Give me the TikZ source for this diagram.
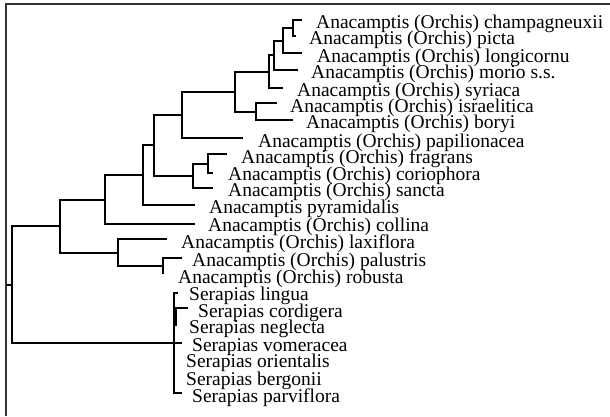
\documentclass[tikz,border=0pt]{standalone}
\usepackage{fontspec}
\setmainfont{Liberation Serif}
\begin{document}
\begin{tikzpicture}[x=1pt,y=-1pt,
  br/.style={line width=2pt,line join=miter,line cap=butt},
  frame/.style={line width=1.3pt,draw=black!80},
  lab/.style={anchor=base west,inner sep=0pt,font=\fontsize{19.5}{20}\selectfont}]
\useasboundingbox (0,0) rectangle (610,416);
\draw[frame] (6,416) -- (6,4) -- (610,4);
% labels
\node[lab] (l1) at (316,28) {Anacamptis (Orchis) champagneuxii};
\node[lab] (l2) at (309,44) {Anacamptis (Orchis) picta};
\node[lab] (l3) at (317,62) {Anacamptis (Orchis) longicornu};
\node[lab] (l4) at (311,78) {Anacamptis (Orchis) morio s.s.};
\node[lab] (l5) at (297,96) {Anacamptis (Orchis) syriaca};
\node[lab] (l6) at (290,112) {Anacamptis (Orchis) israelitica};
\node[lab] (l7) at (306,128) {Anacamptis (Orchis) boryi};
\node[lab] (l8) at (258,147) {Anacamptis (Orchis) papilionacea};
\node[lab] (l9) at (241,163) {Anacamptis (Orchis) fragrans};
\node[lab] (l10) at (228,180) {Anacamptis (Orchis) coriophora};
\node[lab] (l11) at (228,196) {Anacamptis (Orchis) sancta};
\node[lab] (l12) at (209,213) {Anacamptis pyramidalis};
\node[lab] (l13) at (208,231) {Anacamptis (Orchis) collina};
\node[lab] (l14) at (181,248) {Anacamptis (Orchis) laxiflora};
\node[lab] (l15) at (192,266) {Anacamptis (Orchis) palustris};
\node[lab] (l16) at (178,283) {Anacamptis (Orchis) robusta};
\node[lab] (l17) at (189,300) {Serapias lingua};
\node[lab] (l18) at (198,317) {Serapias cordigera};
\node[lab] (l19) at (189,333) {Serapias neglecta};
\node[lab] (l20) at (192,351) {Serapias vomeracea};
\node[lab] (l21) at (186,367) {Serapias orientalis};
\node[lab] (l22) at (186,385) {Serapias bergonii};
\node[lab] (l23) at (192,402) {Serapias parviflora};
% tips
\coordinate (t1) at (302,20);
\coordinate (t2) at (296,36);
\coordinate (t3) at (302,53);
\coordinate (t4) at (298,70);
\coordinate (t5) at (283,88);
\coordinate (t6) at (277,103);
\coordinate (t7) at (293,120);
\coordinate (t8) at (243,138);
\coordinate (t9) at (227,154);
\coordinate (t10) at (213,173);
\coordinate (t11) at (213,188);
\coordinate (t12) at (195,205);
\coordinate (t13) at (195,224);
\coordinate (t14) at (167,239);
\coordinate (t15) at (182,258);
\coordinate (t16) at (163,274);
\coordinate (t17) at (178,293);
\coordinate (t18) at (188,308);
\coordinate (t19) at (176,326);
\coordinate (t20) at (182,343);
\coordinate (t23) at (182,393);
% internal nodes
\coordinate (A) at (293,28);
\coordinate (B) at (283,40.5);
\coordinate (C) at (274,55);
\coordinate (D) at (269,71.5);
\coordinate (F) at (256,111.5);
\coordinate (E) at (235,91.5);
\coordinate (G) at (182,114.75);
\coordinate (J) at (208,163.5);
\coordinate (I) at (193,175.75);
\coordinate (H) at (154,145.25);
\coordinate (K) at (143,175);
\coordinate (L) at (105,199.5);
\coordinate (O) at (163,266);
\coordinate (N) at (118,252.5);
\coordinate (M) at (60,226);
\coordinate (S) at (174,343);
\coordinate (Q) at (176,317);
\coordinate (R) at (12,284.5);
\coordinate (R0) at (6,284.5);
% branches
\draw[br] (A) |- (t1); \draw[br] (A) |- (t2);
\draw[br] (B) |- (A); \draw[br] (B) |- (t3);
\draw[br] (C) |- (B); \draw[br] (C) |- (t4);
\draw[br] (D) |- (C); \draw[br] (D) |- (t5);
\draw[br] (F) |- (t6); \draw[br] (F) |- (t7);
\draw[br] (E) |- (D); \draw[br] (E) |- (F);
\draw[br] (G) |- (E); \draw[br] (G) |- (t8);
\draw[br] (J) |- (t9); \draw[br] (J) |- (t10);
\draw[br] (I) |- (J); \draw[br] (I) |- (t11);
\draw[br] (H) |- (G); \draw[br] (H) |- (I);
\draw[br] (K) |- (H); \draw[br] (K) |- (t12);
\draw[br] (L) |- (K); \draw[br] (L) |- (t13);
\draw[br] (O) |- (t15); \draw[br] (O) |- (t16);
\draw[br] (N) |- (t14); \draw[br] (N) |- (O);
\draw[br] (M) |- (L); \draw[br] (M) |- (N);
\draw[br] (S) |- (t17); \draw[br] (S) |- (t23); \draw[br] (S) -- (t20);
\draw[br] (Q) |- (t18); \draw[br] (Q) |- (t19); \draw[br] (S |- Q) -- (Q);
\draw[br] (R) |- (M); \draw[br] (R) |- (S);
\draw[br] (R0) -- (R);
\end{tikzpicture}
\end{document}
